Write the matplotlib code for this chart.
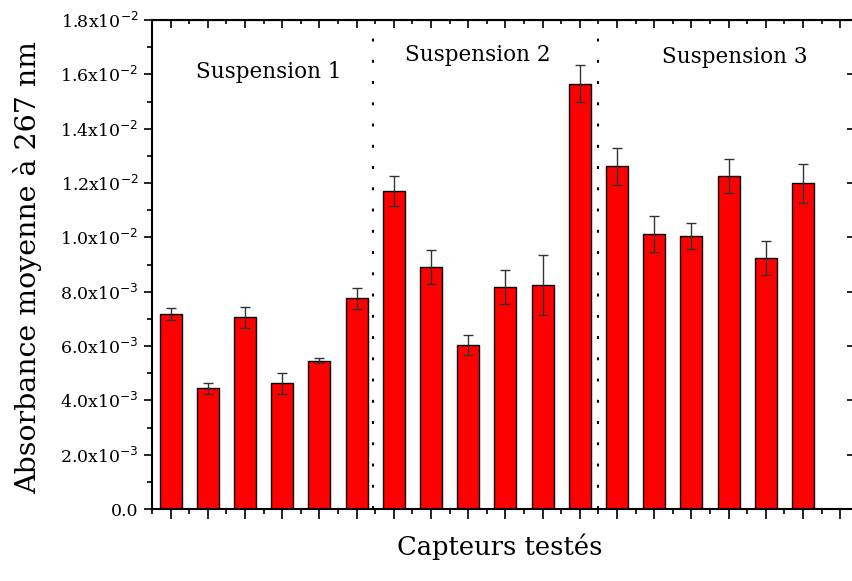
import numpy as np
import matplotlib
matplotlib.use("Agg")
import matplotlib.pyplot as plt
from matplotlib.ticker import FixedLocator, MultipleLocator, FuncFormatter

# Mean absorbance per sensor (3 suspensions x 6 sensors) and error
absorbance = [0.00719, 0.00444, 0.00705, 0.00462, 0.00546, 0.00776,
              0.01170, 0.00891, 0.00604, 0.00817, 0.00825, 0.01566,
              0.01261, 0.01012, 0.01004, 0.01227, 0.00925, 0.01199]
errors = [0.00022, 0.00020, 0.00037, 0.00040, 0.00010, 0.00038,
          0.00056, 0.00064, 0.00037, 0.00061, 0.00110, 0.00067,
          0.00067, 0.00067, 0.00048, 0.00063, 0.00062, 0.00072]
group_names = ["Suspension 1", "Suspension 2", "Suspension 3"]
separators = [6.43, 12.49]

plt.rcParams['font.family'] = ['DejaVu Serif']

fig = plt.figure(figsize=(8.52, 5.81), dpi=100)
ax = fig.add_axes([152 / 852, 72 / 581, 703 / 852, 489 / 581])

x = np.arange(1, len(absorbance) + 1)
ax.bar(x, absorbance, width=0.59, color='#ff0000', edgecolor='black', linewidth=1.0, zorder=2)
ax.errorbar(x, absorbance, yerr=errors, fmt='none', ecolor='#333333', elinewidth=1.0,
            capsize=3.6, capthick=1.0, zorder=3)

for s in separators:
    ax.plot([s, s], [0, 0.018], color='black', lw=1.5, ls=(0, (1.4, 8.8)), zorder=1)

ax.text(3.63, 0.01607, group_names[0], ha='center', va='center', fontsize=15.5)
ax.text(9.27, 0.01670, group_names[1], ha='center', va='center', fontsize=15.5)
ax.text(16.18, 0.01663, group_names[2], ha='center', va='center', fontsize=15.5)

ax.set_xlim(0.5, 19.4)
ax.set_ylim(0, 0.018)


def sci_fmt(v, pos):
    if abs(v) < 1e-12:
        return '0.0'
    exp = int(np.floor(np.log10(abs(v))))
    mant = v / 10 ** exp
    return r'%.1fx10$^{%d}$' % (mant, exp)


ax.yaxis.set_major_locator(MultipleLocator(0.002))
ax.yaxis.set_minor_locator(MultipleLocator(0.001))
ax.yaxis.set_major_formatter(FuncFormatter(sci_fmt))
ax.xaxis.set_major_locator(FixedLocator(np.arange(1, 20)))
ax.xaxis.set_minor_locator(FixedLocator(np.arange(0.5, 20, 1.0)))
ax.set_xticklabels([])

ax.tick_params(axis='y', which='major', direction='out', length=6, width=1.2, labelsize=12.5)
ax.tick_params(axis='y', which='minor', direction='out', length=3.5, width=1.2)
ax.tick_params(axis='x', which='major', direction='out', length=7, width=1.2)
ax.tick_params(axis='x', which='minor', direction='out', length=3.5, width=1.2)

# top and right ticks drawn inward
top = ax.secondary_xaxis('top')
top.xaxis.set_major_locator(FixedLocator(np.arange(1, 20)))
top.xaxis.set_minor_locator(FixedLocator(np.arange(0.5, 20, 1.0)))
top.set_xticklabels([])
top.tick_params(which='major', direction='in', length=6, width=1.2)
top.tick_params(which='minor', direction='in', length=3, width=1.2)
right = ax.secondary_yaxis('right')
right.yaxis.set_major_locator(MultipleLocator(0.002))
right.set_yticklabels([])
right.tick_params(which='major', direction='in', length=6, width=1.2)

for sp in ax.spines.values():
    sp.set_linewidth(1.5)

fig.text(28 / 852, 1 - 268 / 581, 'Absorbance moyenne à 267 nm', rotation=90,
         ha='center', va='center', fontsize=20.5)
fig.text(500 / 852, 1 - 547 / 581, 'Capteurs testés', ha='center', va='center', fontsize=18.5)

fig.savefig('out.png', dpi=100)
